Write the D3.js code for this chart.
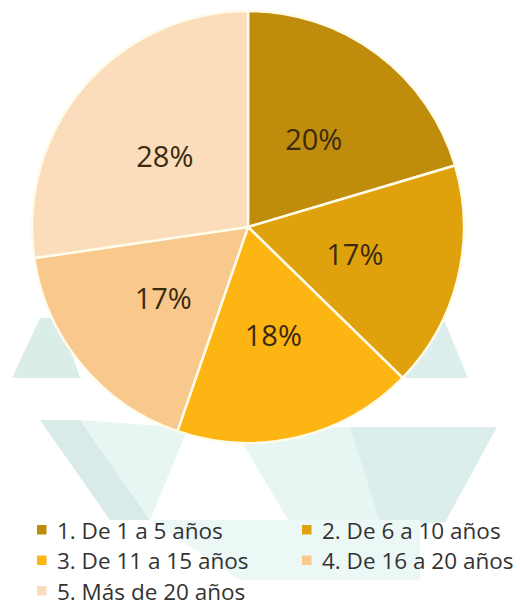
<!DOCTYPE html>
<html>
<head>
<meta charset="utf-8">
<script src="https://cdn.jsdelivr.net/npm/d3@7"></script>
<style>
  html, body { margin: 0; padding: 0; background: #ffffff; }
  svg { display: block; }
</style>
</head>
<body>
<svg id="chart" width="520" height="605"></svg>
<script>
// ---- data ----
const categories = ["1. De 1 a 5 años", "2. De 6 a 10 años", "3. De 11 a 15 años", "4. De 16 a 20 años", "5. Más de 20 años"];
const values = [20.4, 16.9, 18.0, 17.4, 27.3];
const valueLabels = ["20%", "17%", "18%", "17%", "28%"];
const colors = ["#C08C0C", "#E0A20C", "#FDB514", "#F9C88C", "#FBDDBB"];

// ---- layout ----
const W = 520, H = 605;
const cx = 248, cy = 227, R = 216;
const svg = d3.select("#chart");

// faint background watermark (decorative)
const wm = svg.append("g").attr("class", "watermark").attr("opacity", 0.85);
const wmShapes = [
  { pts: [[12,378],[80,378],[60,318],[40,318]], fill: "#d5eae6" },
  { pts: [[403,378],[468,378],[445,322],[425,322]], fill: "#d8ede9" },
  { pts: [[40,420],[80,420],[150,520],[110,520]], fill: "#d3e8e4" },
  { pts: [[80,420],[188,428],[150,520]], fill: "#e4f5f2" },
  { pts: [[233,427],[497,427],[445,522],[300,540]], fill: "#e3f5f2" },
  { pts: [[350,427],[497,427],[445,522],[380,522]], fill: "#d7ece8" },
  { pts: [[150,520],[420,520],[420,580],[240,580]], fill: "#e8f7f5" }
];
wm.selectAll("polygon").data(wmShapes).join("polygon")
  .attr("points", d => d.pts.map(p => p.join(",")).join(" "))
  .attr("fill", d => d.fill);

// ---- pie ----
const pie = d3.pie().sort(null).value(d => d).startAngle(0).endAngle(2 * Math.PI);
const arcs = pie(values);
const arc = d3.arc().innerRadius(0).outerRadius(R);
const labelArc = d3.arc().innerRadius(110).outerRadius(110);

const g = svg.append("g").attr("transform", `translate(${cx},${cy})`);
g.selectAll("path.slice").data(arcs).join("path")
  .attr("class", "slice")
  .attr("d", arc)
  .attr("fill", (d, i) => colors[i])
  .attr("stroke", "#fffbea")
  .attr("stroke-width", 2.5)
  .attr("stroke-linejoin", "round");

g.selectAll("text.lbl").data(arcs).join("text")
  .attr("class", "lbl")
  .attr("transform", d => `translate(${labelArc.centroid(d)})`)
  .attr("text-anchor", "middle")
  .attr("dominant-baseline", "central")
  .attr("font-family", "'Open Sans', sans-serif")
  .attr("font-size", 29)
  .attr("fill", "#3b2a12")
  .text((d, i) => valueLabels[i]);

// ---- legend ----
const legendX = [37, 302];
const legendY0 = 530, legendDY = 30.5;
const leg = svg.append("g").attr("class", "legend");
const items = leg.selectAll("g").data(categories).join("g")
  .attr("transform", (d, i) => `translate(${legendX[i % 2]},${legendY0 + Math.floor(i / 2) * legendDY})`);
items.append("rect")
  .attr("x", 0).attr("y", -5).attr("width", 9.5).attr("height", 9.5)
  .attr("fill", (d, i) => colors[i]);
items.append("text")
  .attr("x", 20).attr("y", 0)
  .attr("dominant-baseline", "central")
  .attr("font-family", "'Open Sans', sans-serif")
  .attr("font-size", 22.5)
  .attr("fill", "#333333")
  .text(d => d);
</script>
</body>
</html>
